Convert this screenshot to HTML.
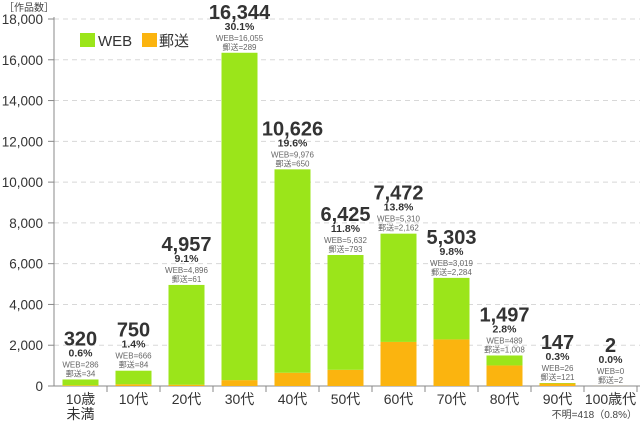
<!DOCTYPE html>
<html><head><meta charset="utf-8"><style>
body{margin:0;background:#fff;}
svg{display:block;font-family:"Liberation Sans","Noto Sans CJK JP",sans-serif;}
</style></head><body>
<svg id="c" width="640" height="422"></svg>
<script>
const categories=["10歳\n未満","10代","20代","30代","40代","50代","60代","70代","80代","90代","100歳代"];
const totals=[320,750,4957,16344,10626,6425,7472,5303,1497,147,2];
const pcts=["0.6%","1.4%","9.1%","30.1%","19.6%","11.8%","13.8%","9.8%","2.8%","0.3%","0.0%"];
const webVals=[286,666,4896,16055,9976,5632,5310,3019,489,26,0];
const postVals=[34,84,61,289,650,793,2162,2284,1008,121,2];
const yTicks=[0,2000,4000,6000,8000,10000,12000,14000,16000,18000];
const NS="http://www.w3.org/2000/svg";
const svg=document.getElementById('c');
const x0=54,step=53,bw=36,y0=386,yTop=19,yMax=18000;
const y=v=>y0-(v/yMax)*(y0-yTop);
const xc=i=>x0+step*i+step/2;
function el(t,a,txt){const e=document.createElementNS(NS,t);for(const k in a)e.setAttribute(k,a[k]);if(txt!==undefined)e.textContent=txt;svg.appendChild(e);return e;}
const fmt=n=>n.toLocaleString('en-US');
yTicks.forEach(v=>{
  if(v>0){const g=el('line',{x1:x0,x2:640,y1:y(v),y2:y(v),stroke:'#d8d8d8','stroke-dasharray':'5,4'});
  
  }
  const tk=el('line',{x1:x0-6,x2:x0,y1:y(v),y2:y(v),stroke:'#888'});
  
  
  const t=el('text',{x:x0-11,y:y(v)+5,'text-anchor':'end','font-size':13.5,fill:'#333'},fmt(v));
  
  
});
const ya=el('line',{x1:x0,x2:x0,y1:yTop-2,y2:y0,stroke:'#888'});


const xa=el('line',{x1:x0-6,x2:640,y1:y0,y2:y0,stroke:'#888'});


const yt=el('text',{x:4,y:11,'font-size':10,fill:'#444'},'［作品数］');


categories.forEach((c,i)=>{
  const tx=x0+step*(i+1);
  const tk=el('line',{x1:tx,x2:tx,y1:y0,y2:y0+6,stroke:'#888'});
  
  
  c.split('\n').forEach((ln,j)=>{
    const t=el('text',{x:xc(i),y:404+j*15,'text-anchor':'middle','font-size':14,fill:'#333'},ln);
    
    
  });
  const bx=xc(i)-bw/2;
  const pb=el('rect',{x:bx,y:y(postVals[i]),width:bw,height:y0-y(postVals[i]),fill:'#fbb40f'});
  
  
  const wb=el('rect',{x:bx,y:y(postVals[i]+webVals[i]),width:bw,height:y(postVals[i])-y(postVals[i]+webVals[i]),fill:'#9be51a'});
  
  
  const top=y(totals[i]);
  const a=el('text',{x:xc(i),y:top-34,'text-anchor':'middle','font-size':20,'font-weight':'bold',fill:'#333'},fmt(totals[i]));
  
  
  const b=el('text',{x:xc(i),y:top-23,'text-anchor':'middle','font-size':10.5,'font-weight':'bold',fill:'#333'},pcts[i]);
  
  
  const d=el('text',{x:xc(i),y:top-12,'text-anchor':'middle','font-size':8,fill:'#666'},'WEB='+fmt(webVals[i]));
  
  
  const e=el('text',{x:xc(i),y:top-3,'text-anchor':'middle','font-size':8,fill:'#666'},'郵送='+fmt(postVals[i]));
  
  
});
const un=el('text',{x:637,y:418,'text-anchor':'end','font-size':10,fill:'#444'},'不明=418（0.8%）');


const l1=el('rect',{x:80,y:33,width:15,height:14,fill:'#9be51a'});


const l2=el('text',{x:98,y:46,'font-size':15,fill:'#333'},'WEB');


const l3=el('rect',{x:142,y:33,width:15,height:14,fill:'#fbb40f'});


const l4=el('text',{x:159,y:46,'font-size':15,fill:'#333'},'郵送');


</script>
</body></html>
